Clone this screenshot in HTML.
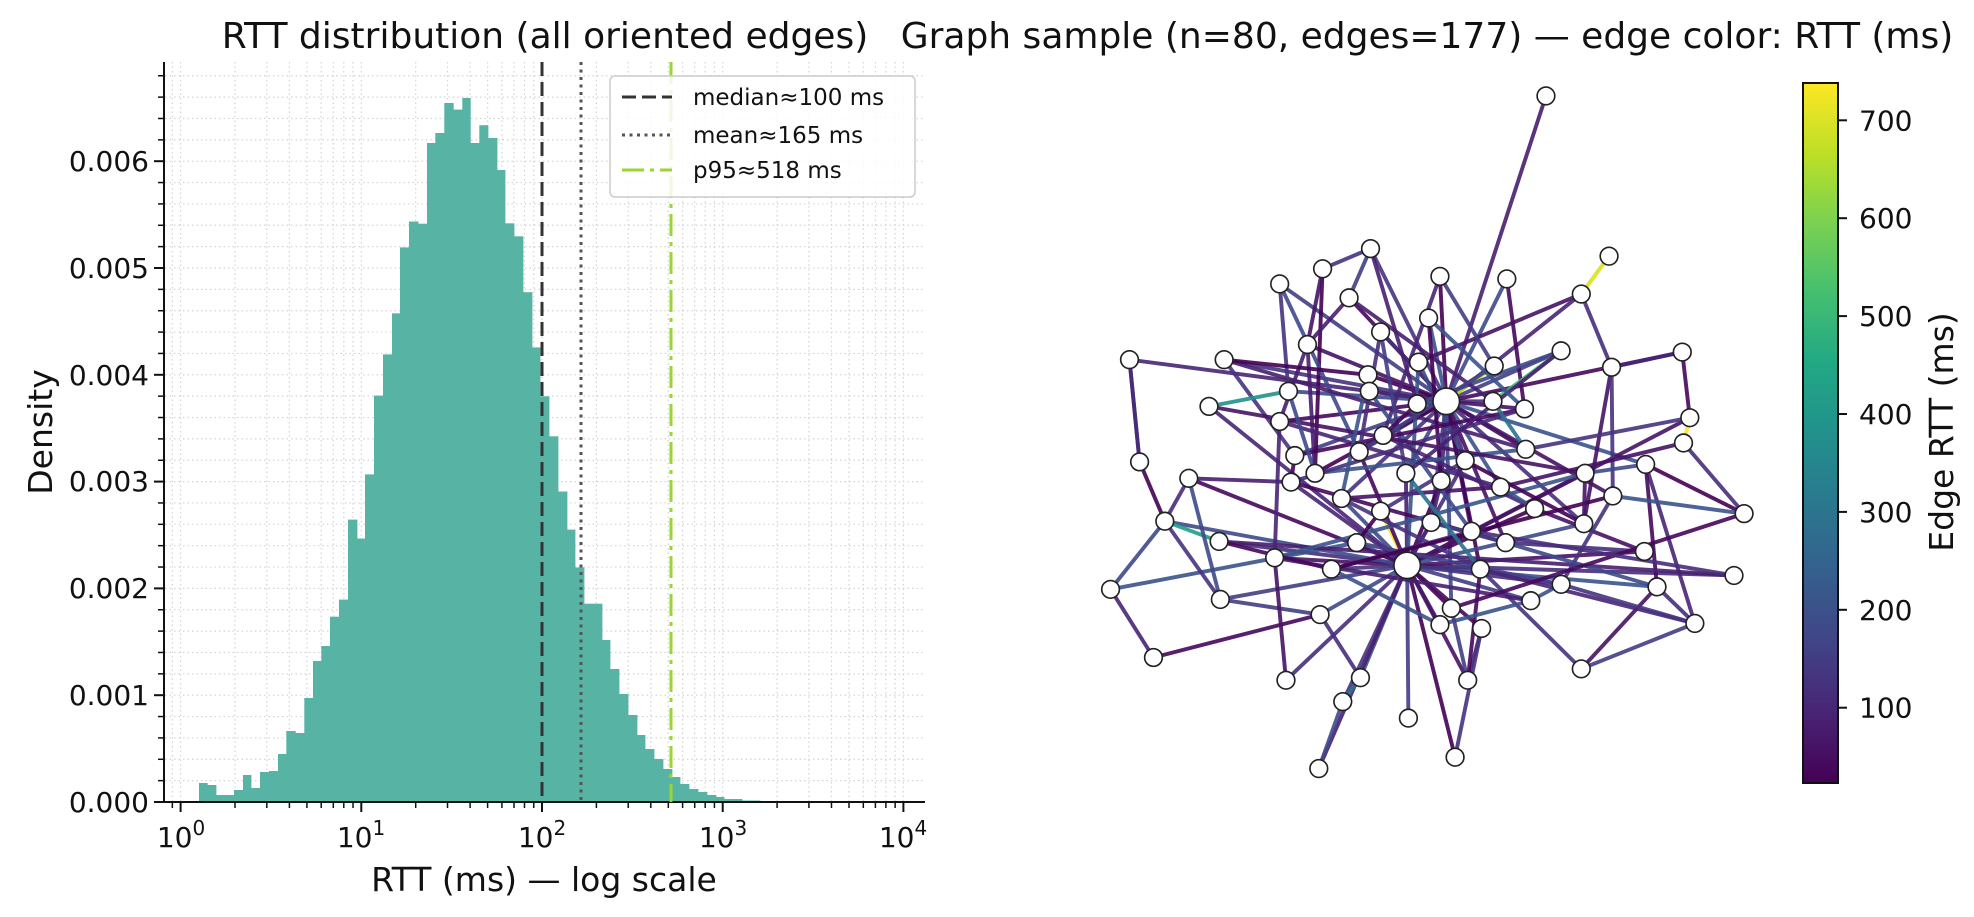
<!DOCTYPE html>
<html><head><meta charset="utf-8"><style>
html,body{margin:0;padding:0;background:#fff;}
svg{display:block;font-family:"DejaVu Sans","Liberation Sans",sans-serif;}
</style></head><body>
<svg id="s" width="1974" height="917" viewBox="0 0 1974 917" xmlns="http://www.w3.org/2000/svg">
<defs>
<linearGradient id="vir" x1="0" y1="1" x2="0" y2="0">
<stop offset="0" stop-color="#440154"/><stop offset="0.1" stop-color="#482475"/><stop offset="0.2" stop-color="#414487"/><stop offset="0.3" stop-color="#355f8d"/><stop offset="0.4" stop-color="#2a788e"/><stop offset="0.5" stop-color="#21918c"/><stop offset="0.6" stop-color="#22a884"/><stop offset="0.7" stop-color="#44bf70"/><stop offset="0.8" stop-color="#7ad151"/><stop offset="0.9" stop-color="#bddf26"/><stop offset="1" stop-color="#fde725"/>
</linearGradient>
</defs>
<g id="grid"></g>
<g id="bars"></g>
<g id="axes"></g>
<line x1="542" y1="62" x2="542" y2="802" stroke="#333" stroke-width="3" stroke-dasharray="14 6"/>
<line x1="581" y1="62" x2="581" y2="802" stroke="#555" stroke-width="3" stroke-dasharray="3 4.5"/>
<line x1="671" y1="62" x2="671" y2="802" stroke="#9ad631" stroke-width="3" stroke-dasharray="22 6 4 6"/>
<rect x="610" y="76" width="305" height="121" rx="5" fill="#fff" fill-opacity="0.85" stroke="#ccc" stroke-width="1.5"/>
<line x1="622" y1="97" x2="672" y2="97" stroke="#333" stroke-width="3" stroke-dasharray="14 6"/>
<line x1="622" y1="135" x2="672" y2="135" stroke="#555" stroke-width="3" stroke-dasharray="3 4.5"/>
<line x1="622" y1="170" x2="672" y2="170" stroke="#9ad631" stroke-width="3" stroke-dasharray="22 6 4 6"/>
<g font-size="23" fill="#111">
<text x="693" y="105">median≈100 ms</text>
<text x="693" y="143">mean≈165 ms</text>
<text x="693" y="178">p95≈518 ms</text>
</g>
<g font-size="28" fill="#111" text-anchor="end" id="ylab">
<text x="149" y="812">0.000</text>
<text x="149" y="705">0.001</text>
<text x="149" y="598">0.002</text>
<text x="149" y="491">0.003</text>
<text x="149" y="385">0.004</text>
<text x="149" y="278">0.005</text>
<text x="149" y="171">0.006</text>
</g>
<g font-size="28" fill="#111" text-anchor="middle">
<text x="181" y="847">10<tspan dy="-12" font-size="20">0</tspan></text>
<text x="361" y="847">10<tspan dy="-12" font-size="20">1</tspan></text>
<text x="542" y="847">10<tspan dy="-12" font-size="20">2</tspan></text>
<text x="723" y="847">10<tspan dy="-12" font-size="20">3</tspan></text>
<text x="903" y="847">10<tspan dy="-12" font-size="20">4</tspan></text>
</g>
<text x="544" y="891" font-size="33" text-anchor="middle" fill="#111">RTT (ms) — log scale</text>
<text transform="translate(52,432) rotate(-90)" font-size="33" text-anchor="middle" fill="#111">Density</text>
<text x="545" y="48" font-size="36" text-anchor="middle" fill="#111">RTT distribution (all oriented edges)</text>
<text x="1427" y="48" font-size="36" text-anchor="middle" fill="#111">Graph sample (n=80, edges=177) — edge color: RTT (ms)</text>
<g id="graph" transform="scale(1.262)"></g>
<rect x="1803" y="83" width="35" height="700" fill="url(#vir)" stroke="#111" stroke-width="2"/>
<g id="cbt" font-size="28" fill="#111"></g>
<text transform="translate(1953,432) rotate(-90)" font-size="33" text-anchor="middle" fill="#111">Edge RTT (ms)</text>
</svg>
<script>
var NS="http://www.w3.org/2000/svg";
function el(p,t,a){var e=document.createElementNS(NS,t);for(var k in a)e.setAttribute(k,a[k]);p.appendChild(e);return e;}
var grid=document.getElementById('grid'),bars=document.getElementById('bars'),axes=document.getElementById('axes');
function X(v){return 542+180.7*(Math.log10(v)-2);}
function Y(d){return 802-d*106800;}
var xs=[0.9];for(var d=0;d<4;d++)for(var k=1;k<10;k++)xs.push(k*Math.pow(10,d));xs.push(10000);
xs.forEach(function(v){var x=X(v);if(x<165||x>925)return;
 el(grid,'line',{x1:x,y1:62,x2:x,y2:802,stroke:'#d4d4d4','stroke-width':1.2,'stroke-dasharray':'1.5 3'});
 var maj=Math.abs(Math.log10(v)-Math.round(Math.log10(v)))<1e-9;
 el(axes,'line',{x1:x,y1:802,x2:x,y2:802+(maj?10:6),stroke:'#111','stroke-width':maj?2:1.5});
});
for(var i=0;i<=34;i++){var y=Y(i*0.0002);if(y<62)break;
 if(i>0)el(grid,'line',{x1:165,y1:y,x2:925,y2:y,stroke:'#d4d4d4','stroke-width':1.2,'stroke-dasharray':'1.5 3'});
 var maj=i%5==0;el(axes,'line',{x1:164,y1:y,x2:164-(maj?10:6),y2:y,stroke:'#111','stroke-width':maj?2:1.5});}
el(axes,'line',{x1:164,y1:62,x2:164,y2:803,stroke:'#111','stroke-width':2});
el(axes,'line',{x1:163,y1:802,x2:925,y2:802,stroke:'#111','stroke-width':2});
var B=[[199,207.3,783],[207.3,216,785],[216,225,795],[225,234,795],[234,243,790],[243,251,775],[251,260,788],[260,269,772],[269,278,771],[278,286.3,754],[286.3,295.3,731],[295.3,304.3,733],[304.3,313,698],[313,321.3,661],[321.3,330,646],[330,339,616.7],[339,348,599.6],[348,357,519.6],[357,365,538.5],[365,374,474.4],[374,383,395.6],[383,392,354.4],[392,400,313.3],[400,409,247.4],[409,418,221.5],[418,427,223.7],[427,435.3,143],[435.3,444.3,133],[444.3,453.3,103],[453.3,462.3,109.6],[462.3,470.3,98],[470.3,479.3,143],[479.3,488,125.2],[488,497,138],[497,505,170],[505,514,223.3],[514,523,236.3],[523,532,292.2],[532,540,347.4],[540,549,396.3],[549,558,436.3],[558,567,491.5],[567,575,529.6],[575,584,567.4],[584,602,603.7],[602,610,640],[610,619,669],[619,628,694],[628,637,715],[637,645,735],[645,654,749],[654,663,759],[663,672,769],[672,680,777],[680,689,784],[689,698,789],[698,707,792],[707,716,795],[716,724,797],[724,742,799],[742,760,800.5]];
B.forEach(function(b){el(bars,'rect',{x:b[0],y:b[2],width:b[1]-b[0]+0.4,height:802-b[2],fill:'#57b4a5'});});
var cbt=document.getElementById('cbt');
for(var v=100;v<=700;v+=100){var y=707.7-(v-100)*0.979;
 el(cbt,'line',{x1:1838,y1:y,x2:1847,y2:y,stroke:'#111','stroke-width':2});
 var t=el(cbt,'text',{x:1859,y:y+10});t.textContent=String(v);}
var N={A:[1146,318],B:[1115,448],1:[1225,76],2:[1086,197],3:[1048,213],4:[1014,225],5:[1141,219],6:[1194,221],7:[1275,203],8:[1253,233],9:[1069,236],10:[1132,252],11:[1094,263],12:[1036,273],13:[895,285],14:[970,285],15:[1237,278],16:[1184,290],17:[1333,279],18:[1277,291],19:[1084,297],20:[1124,287],21:[1021,310],22:[1085,310],23:[958,322],24:[1014,334],25:[1123,320],26:[1183,318],27:[1208,324],28:[1339,331],29:[1334,351],30:[1096,345],31:[903,366],32:[1026,361],33:[1077,358],34:[942,379],35:[1042,375],36:[1114,375],37:[1142,381],38:[1209,356],39:[1023,382],40:[1304,368],41:[1189,386],42:[1256,375],43:[1161,365],44:[1278,393],45:[1382,407],46:[923,413],47:[1063,395],48:[1094,405],49:[1134,414],51:[1216,403],52:[1166,421],53:[1255,415],54:[1075,430],55:[966,429],56:[1010,442],57:[1193,430],58:[1055,451],59:[1303,437],60:[880,467],61:[967,475],62:[1173,451],63:[1237,463],64:[1150,482],65:[1213,476],66:[1313,465],67:[1374,456],68:[1046,487],69:[1141,495],70:[1174,498],71:[1343,494],72:[914,521],73:[1253,530],74:[1078,537],75:[1019,539],76:[1163,539],77:[1064,556],78:[1116,569],79:[1045,609],80:[1153,600]};
var E="A-1,A-5,A-6,A-8,A-9,A-10,A-11,A-12,A-14,A-15,A-16:#bddf26,A-19,A-21,A-22,A-24,A-25,A-26,A-27,A-30,A-32,A-33,A-35,A-36,A-37,A-38,A-41,A-43,A-44,A-47,A-49,A-52,A-62,A-64,A-13,A-17,A-40,A-53,A-57,A-2,A-4,"+
"B-36,B-37,B-47,B-48:#fde725,B-49,B-54,B-55,B-56,B-58,B-61,B-62:#25ab82,B-64,B-68,B-69,B-70,B-74,B-75,B-76,B-77,B-78,B-79,B-80,B-46,B-39,B-34,B-66,B-67,B-59,B-63,B-65,B-42,B-51,B-53,B-23,B-33,B-20,B-43,B-28,"+
"2-3,2-9,2-25,3-35,4-33,5-30,6-27,7-8:#d8e219,8-18,8-20,14-32,13-31:#3b528b,14-38,15-26:#3bbb75,15-25,17-18,17-28,28-29:#fde725,29-45,18-53,18-44,21-23:#21918c,12-24,31-46,46-60,60-72,72-68,60-54,46-34,46-55:#1f9e89,46-61,61-68,34-39,40-45,40-42,40-71,40-66,45-44,66-71,66-73,73-62,73-71,67-55,74-77:#2c728e,77-79,76-70,76-62,63-65,59-57,59-51,44-63,11-36,12-35,19-22,20-43,24-41,39-57,56-42,58-52,47-41,48-43,49-57,9-26,10-37,22-52,30-51,32-27,35-38,39-27,23-42,47-62,54-63,56-65,58-44,57-66,62-71,64-45,65-69,52-67,41-29,38-28,33-16,36-15,43-53,26-38:#2c728e,27-10:#3b528b,25-30,19-47,11-33,3-12,4-21,5-16,9-12,14-19,21-35,24-56,32-39,58-69,68-74,75-56,80-70,64-76,37-49,48-54,34-61,31-13,55-58,36-62:#2c728e,41-51:#3b528b,42-53,63-71";
var pal=['#440154','#46085c','#471365','#481f70','#482576','#472d7b','#433e85','#3e4989','#3b528b','#46337e'];
var G=document.getElementById('graph');
E.split(',').forEach(function(s,i){var p=s.split(':');var ab=p[0].split('-');var a=N[ab[0]],b=N[ab[1]];if(!a||!b)return;
 var c=p[1]||pal[(i*7+3)%pal.length];
 el(G,'line',{x1:a[0],y1:a[1],x2:b[0],y2:b[1],stroke:c,'stroke-width':3.1,'stroke-opacity':0.9,'stroke-linecap':'round'});});
for(var k in N){var n=N[k];var hub=(k=='A'||k=='B');
 el(G,'circle',{cx:n[0],cy:n[1],r:hub?10.5:7,fill:'#fff',stroke:'#222','stroke-width':1.3});}
</script>
</body></html>
